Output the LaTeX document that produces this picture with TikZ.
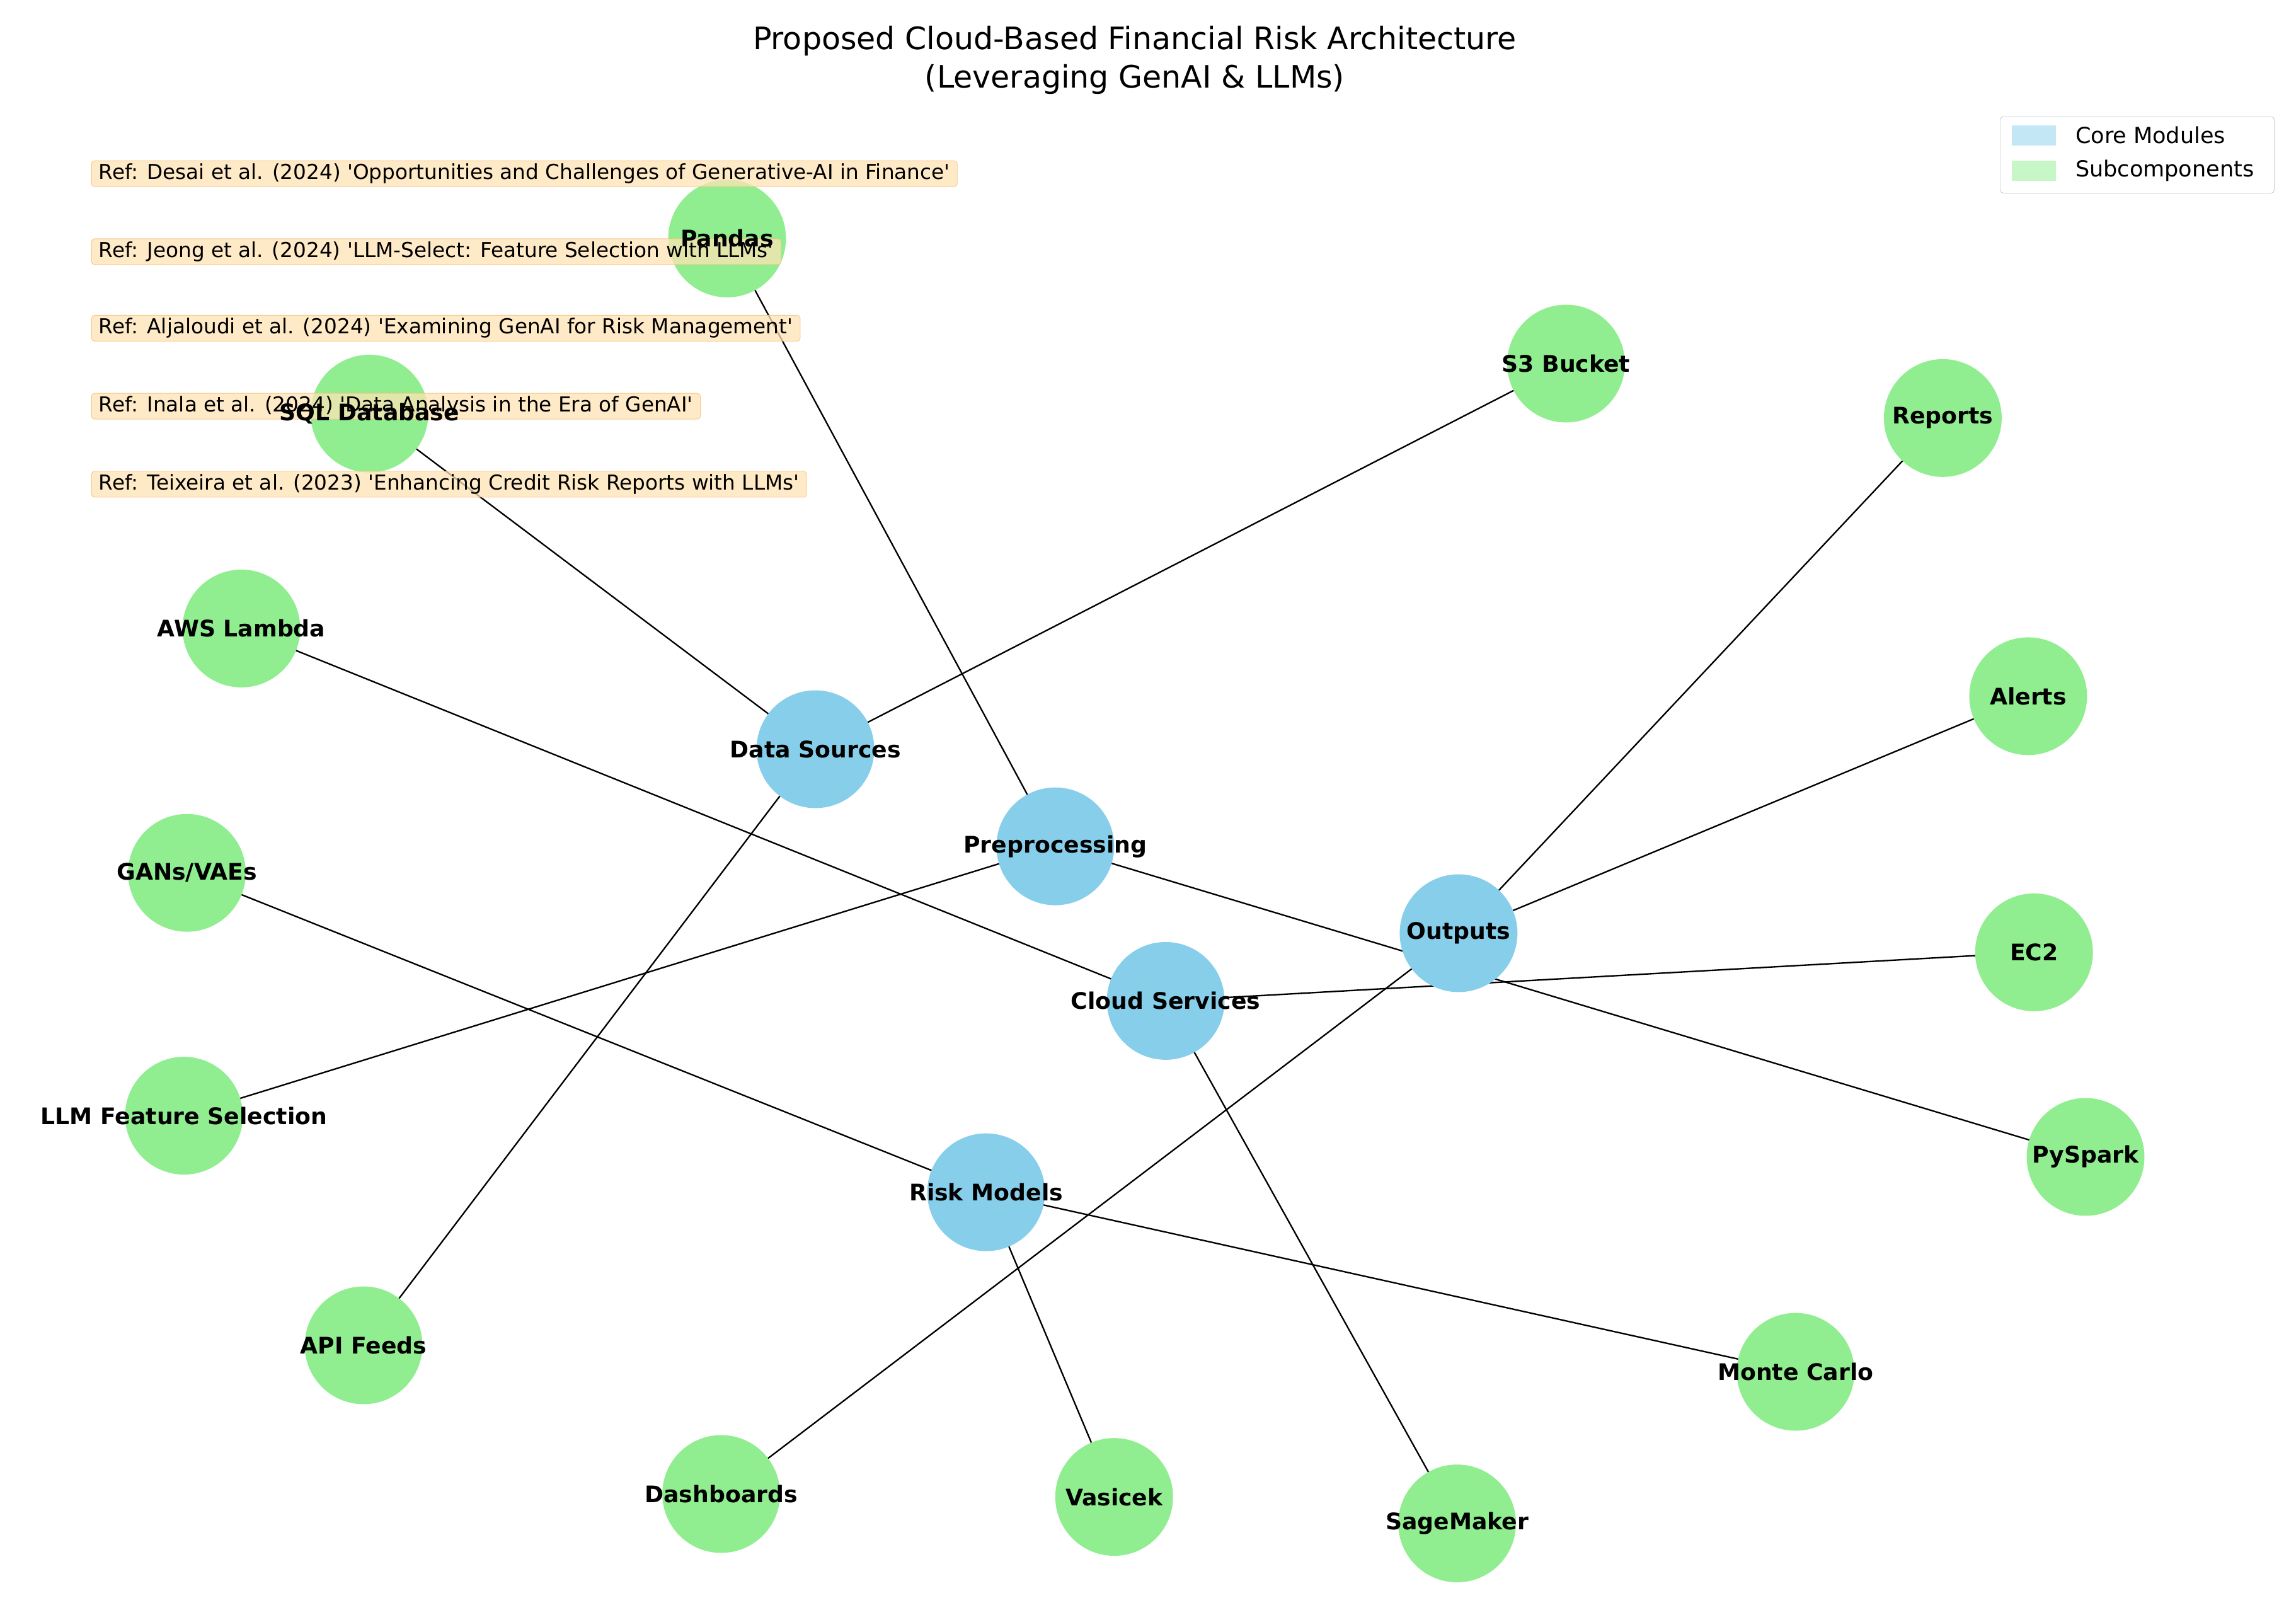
\documentclass[tikz,border=0pt]{standalone}
\usepackage{fontspec}
\setmainfont{DejaVu Sans}[Ligatures=TeXOff]
\definecolor{core}{HTML}{87CEEB}
\definecolor{sub}{HTML}{90EE90}
\definecolor{refc}{HTML}{FFE4B5}
\definecolor{refb}{HTML}{F5C07A}
\begin{document}
\begin{tikzpicture}[x=1pt,y=-1pt,
 corenode/.style={circle,fill=core,minimum size=80pt,inner sep=0pt},
 subnode/.style={circle,fill=sub,minimum size=80pt,inner sep=0pt},
 lab/.style={font=\bfseries\fontsize{15.5}{18}\selectfont},
 edge/.style={line width=1pt,black},
 ref/.style={anchor=west,fill=refc,fill opacity=0.75,text opacity=1,draw=refb,draw opacity=0.8,rounded corners=2pt,font=\fontsize{14}{16}\selectfont,inner xsep=5pt,inner ysep=2pt}]
\useasboundingbox (0,0) rectangle (1560,1097);
\fill[white] (0,0) rectangle (1560,1097);
% nodes
\foreach \n/\x/\y in {ds/554/509,pp/717/575,out/991/634,cs/792/680,rm/670/810,
 pandas/494/162,sql/251/281,s3/1064/247,rep/1320/284,lam/164/427,alerts/1378/473,
 gans/127/593,ec2/1382/647,llm/125/758,pys/1417/786,api/247/914,mc/1220/932,
 dash/490/1015,vas/757/1017,sage/990/1035}
 {\coordinate (\n) at (\x,\y);}
% edges
\foreach \a/\b in {ds/sql,ds/s3,ds/api,pp/pandas,pp/llm,pp/pys,out/rep,out/alerts,out/dash,cs/lam,cs/ec2,cs/sage,rm/gans,rm/mc,rm/vas}
 {\draw[edge] (\a) -- (\b);}
\foreach \n in {ds,pp,out,cs,rm}{\node[corenode] at (\n) {};}
\foreach \n in {pandas,sql,s3,rep,lam,alerts,gans,ec2,llm,pys,api,mc,dash,vas,sage}{\node[subnode] at (\n) {};}
% refs
\node[ref] (r1) at (62,118) {Ref: Desai et al. (2024) 'Opportunities and Challenges of Generative-AI in Finance'};
\node[ref] (r2) at (62,171) {Ref: Jeong et al. (2024) 'LLM-Select: Feature Selection with LLMs'};
\node[ref] (r3) at (62,223) {Ref: Aljaloudi et al. (2024) 'Examining GenAI for Risk Management'};
\node[ref] (r4) at (62,276) {Ref: Inala et al. (2024) 'Data Analysis in the Era of GenAI'};
\node[ref] (r5) at (62,329) {Ref: Teixeira et al. (2023) 'Enhancing Credit Risk Reports with LLMs'};
% labels
\foreach \n/\t in {ds/Data Sources,pp/Preprocessing,out/Outputs,cs/Cloud Services,rm/Risk Models,pandas/Pandas,sql/SQL Database,s3/S3 Bucket,rep/Reports,lam/AWS Lambda,alerts/Alerts,gans/{GANs/VAEs},ec2/EC2,llm/LLM Feature Selection,pys/PySpark,api/API Feeds,mc/Monte Carlo,dash/Dashboards,vas/Vasicek,sage/SageMaker}
 {\node[lab] (l-\n) at (\n) {\t};}
% title
\node[font=\fontsize{21}{26}\selectfont,align=center] (title) at (771,41) {Proposed Cloud-Based Financial Risk Architecture\\(Leveraging GenAI \& LLMs)};
% legend
\node[draw=gray!40,fill=white,rounded corners=2pt,minimum width=186pt,minimum height=52pt,anchor=north west] (leg) at (1359,79) {};
\fill[core!50] (1367,85) rectangle (1397,99);
\fill[sub!50] (1367,109) rectangle (1397,123);
\node[anchor=west,font=\fontsize{15}{18}\selectfont,inner sep=0pt] (lg1) at (1410,92) {Core Modules};
\node[anchor=west,font=\fontsize{15}{18}\selectfont,inner sep=0pt] (lg2) at (1410,116) {Subcomponents};
\end{tikzpicture}
\end{document}
